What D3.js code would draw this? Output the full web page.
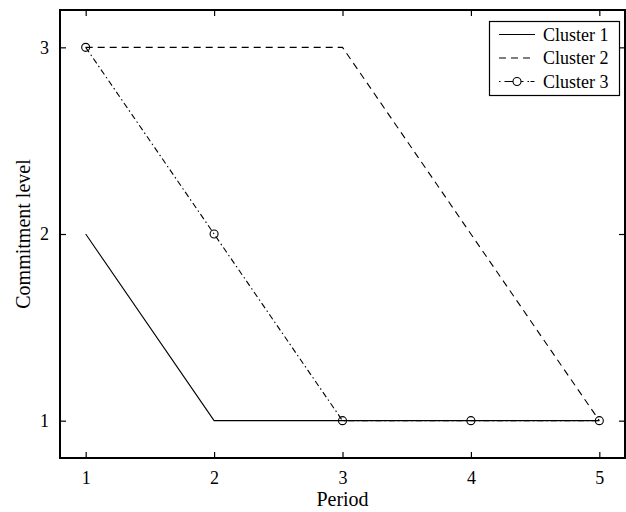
<!DOCTYPE html>
<html>
<head>
<meta charset="utf-8">
<script src="https://cdn.jsdelivr.net/npm/d3@7"></script>
<style>
  html, body { margin: 0; padding: 0; background: #fff; }
  svg { display: block; }
  text { font-family: "Liberation Serif", "Times New Roman", serif; fill: #000; }
</style>
</head>
<body>
<svg id="chart" width="626" height="512"></svg>
<script>
const periods = [1, 2, 3, 4, 5];
const cluster1 = [2, 1, 1, 1, 1];
const cluster2 = [3, 3, 3, 2, 1];
const cluster3 = [3, 2, 1, 1, 1];
const seriesNames = ["Cluster 1", "Cluster 2", "Cluster 3"];
const xTicks = [1, 2, 3, 4, 5];
const yTicks = [1, 2, 3];
const xLabel = "Period";
const yLabel = "Commitment level";

const series = [
  { name: seriesNames[0], values: cluster1, dash: null, marker: false },
  { name: seriesNames[1], values: cluster2, dash: "7,5", marker: false },
  { name: seriesNames[2], values: cluster3, dash: "6,3,1.5,3", marker: true }
];

const svg = d3.select("#chart");
const L = 60, R = 625, T = 10, B = 458;

const x = d3.scaleLinear().domain([0.8, 5.2]).range([L, R]);
const y = d3.scaleLinear().domain([0.8, 3.2]).range([B, T]);

const tick = 6;
const gB = svg.append("g").attr("transform", `translate(0,${B})`)
  .call(d3.axisBottom(x).tickValues(xTicks).tickSizeInner(-tick).tickSizeOuter(0).tickPadding(13).tickFormat(d3.format("d")));
const gT = svg.append("g").attr("transform", `translate(0,${T})`)
  .call(d3.axisTop(x).tickValues(xTicks).tickSizeInner(-tick).tickSizeOuter(0).tickFormat(""));
const gL = svg.append("g").attr("transform", `translate(${L},0)`)
  .call(d3.axisLeft(y).tickValues(yTicks).tickSizeInner(-tick).tickSizeOuter(0).tickPadding(11).tickFormat(d3.format("d")));
const gR = svg.append("g").attr("transform", `translate(${R},0)`)
  .call(d3.axisRight(y).tickValues(yTicks).tickSizeInner(-tick).tickSizeOuter(0).tickFormat(""));

[gB, gT, gL, gR].forEach(g => {
  g.attr("font-family", null).attr("font-size", null);
  g.select(".domain").remove();
  g.selectAll(".tick line").attr("stroke", "#000").attr("stroke-width", 1.2);
  g.selectAll(".tick text")
    .style("font-family", "'Liberation Serif', 'Times New Roman', serif")
    .style("font-size", "18px");
});
gB.selectAll(".tick text").attr("dy", "0.71em");

// box
svg.append("rect").attr("x", L).attr("y", T).attr("width", R - L).attr("height", B - T)
  .attr("fill", "none").attr("stroke", "#000").attr("stroke-width", 2);

// lines
const line = d3.line().x((d, i) => x(periods[i])).y(d => y(d));
series.forEach(s => {
  svg.append("path").datum(s.values)
    .attr("d", line)
    .attr("fill", "none")
    .attr("stroke", "#000")
    .attr("stroke-width", 1.1)
    .attr("stroke-dasharray", s.dash);
  if (s.marker) {
    svg.append("g").selectAll("circle").data(s.values).join("circle")
      .attr("cx", (d, i) => x(periods[i]))
      .attr("cy", d => y(d))
      .attr("r", 4)
      .attr("fill", "none")
      .attr("stroke", "#000")
      .attr("stroke-width", 1.1);
  }
});

// axis labels
svg.append("text").attr("x", (L + R) / 2).attr("y", 506)
  .attr("text-anchor", "middle").style("font-size", "20px").text(xLabel);
svg.append("text").attr("transform", `translate(30,${(T + B) / 2}) rotate(-90)`)
  .attr("text-anchor", "middle").style("font-size", "20px").text(yLabel);

// legend
const lg = svg.append("g");
lg.append("rect").attr("x", 489.5).attr("y", 21.5).attr("width", 130).attr("height", 74)
  .attr("fill", "#fff").attr("stroke", "#000").attr("stroke-width", 1.2);
const rowY = [34.5, 58, 81.5];
series.forEach((s, i) => {
  const yy = rowY[i];
  if (s.marker) {
    lg.append("line").attr("x1", 499).attr("x2", 535).attr("y1", yy).attr("y2", yy)
      .attr("stroke", "#000").attr("stroke-width", 1.1).attr("stroke-dasharray", "1.5,4,19,4,1.5");
    lg.append("circle").attr("cx", 517).attr("cy", yy).attr("r", 4)
      .attr("fill", "#fff").attr("stroke", "#000").attr("stroke-width", 1.1);
  } else {
    lg.append("line").attr("x1", 499).attr("x2", 535).attr("y1", yy).attr("y2", yy)
      .attr("stroke", "#000").attr("stroke-width", 1.1).attr("stroke-dasharray", s.dash);
  }
  lg.append("text").attr("x", 543).attr("y", yy + 6).style("font-size", "18px").text(s.name);
});
</script>
</body>
</html>
